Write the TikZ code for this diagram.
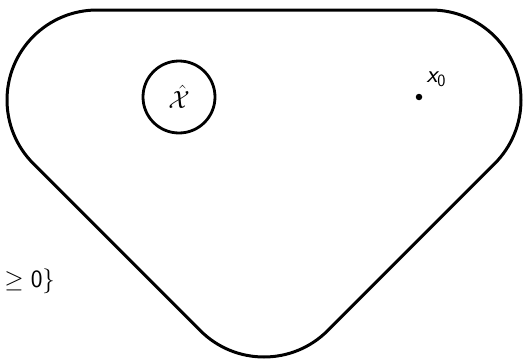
\documentclass[tikz,border=0pt]{standalone}
\usetikzlibrary{calc}
\begin{document}
\begin{tikzpicture}[x=1pt,y=1pt,line width=3pt,line join=round,
  font=\fontsize{25}{30}\selectfont,
  setcircle/.style={circle,draw,inner sep=0pt,minimum size=72pt,line width=2.8pt},
  ptdot/.style={circle,fill,inner sep=0pt,minimum size=6.5pt}]
\useasboundingbox (0,0) rectangle (531,360);
\coordinate (A) at (97,260);
\coordinate (B) at (431,260);
\coordinate (C) at (264,93);
\draw ($(A)+(90:90)$) -- ($(B)+(90:90)$)
  arc[start angle=90,end angle=-45,radius=90]
  -- ($(C)+(-45:90)$)
  arc[start angle=-45,end angle=-135,radius=90]
  -- ($(A)+(-135:90)$)
  arc[start angle=225,end angle=90,radius=90] -- cycle;
\node[setcircle] (xhat) at (179,263) {$\hat{\mathcal{X}}$};
\node[ptdot] (x0) at (419,263) {};
\node[anchor=south west,inner sep=0pt] (x0lab) at (425,272) {$\textsf{\itshape x}_{\mathsf{0}}$};
\node[anchor=base west,inner sep=0pt] (cut) at (3,73) {$\geq \mathsf{0}\}$};
\end{tikzpicture}
\end{document}
